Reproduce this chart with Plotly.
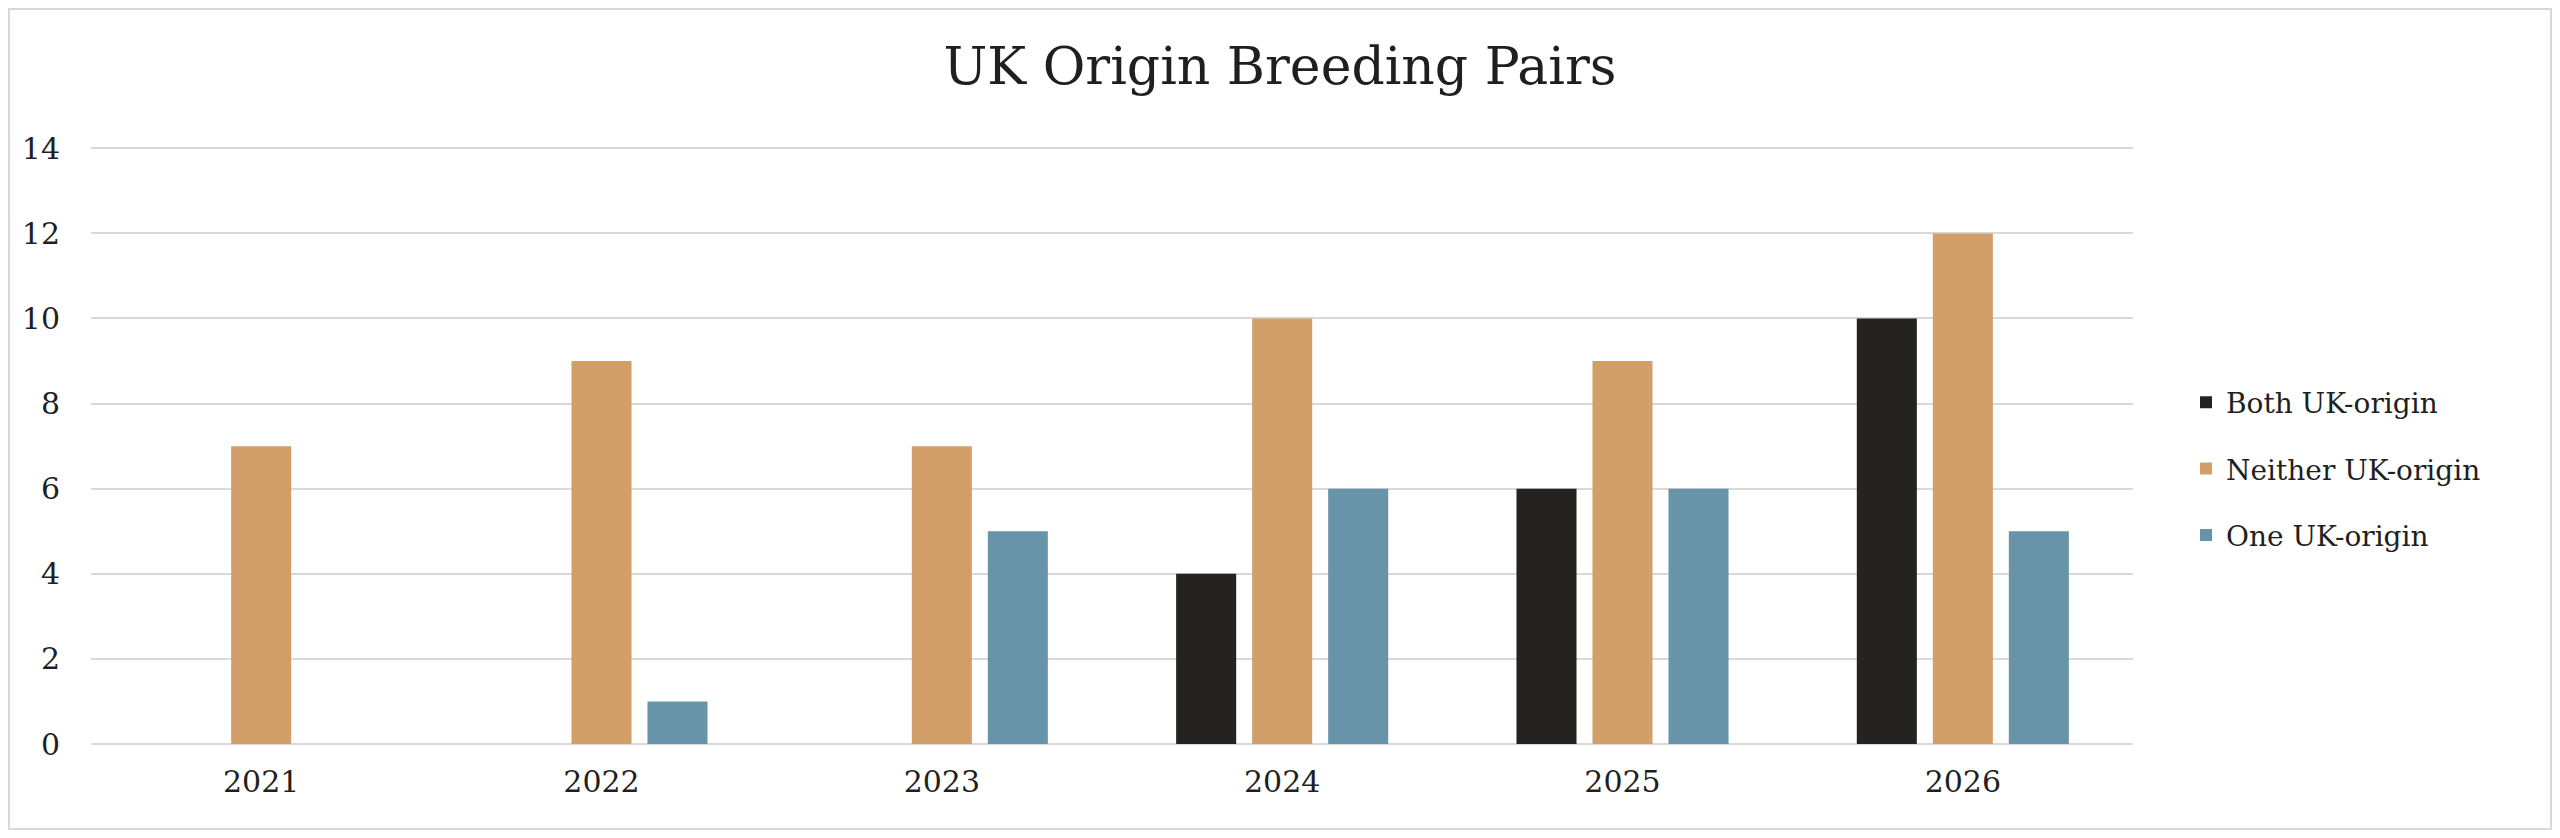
import plotly.graph_objects as go

# chart data
years = ["2021", "2022", "2023", "2024", "2025", "2026"]
both_uk = [None, None, None, 4, 6, 10]
neither_uk = [7, 9, 7, 10, 9, 12]
one_uk = [None, 1, 5, 6, 6, 5]
y_ticks = [0, 2, 4, 6, 8, 10, 12, 14]

series = [
    ("Both UK-origin", both_uk, "#242321"),
    ("Neither UK-origin", neither_uk, "#D39F69"),
    ("One UK-origin", one_uk, "#6894AA"),
]

# page has an 8px body margin, so the figure is a bit smaller than the window
W, H = 2544, 822
ml, mr, mt, mb = 83, 419, 139, 86
pw, ph = W - ml - mr, H - mt - mb
font_name = "DejaVu Serif"
text_col = "#1F1F1F"
grid_col = "#D9D9D9"

fig = go.Figure()
for i, (name, vals, col) in enumerate(series):
    fig.add_trace(go.Bar(x=years, y=vals, name=name, marker=dict(color=col, line=dict(width=0)),
                         legendgroup=f"g{i}"))

fig.update_layout(
    width=W, height=H,
    margin=dict(l=ml, r=mr, t=mt, b=mb),
    paper_bgcolor="white", plot_bgcolor="white",
    barmode="group", bargap=0.33, bargroupgap=0.21,
    title=dict(text="UK Origin Breeding Pairs", x=0.5, xanchor="center",
               y=1 - 58 / H, yanchor="middle",
               font=dict(family=font_name, size=52, color=text_col)),
    legend=dict(x=(2178 - ml) / pw, xanchor="left", y=(H - mb - 461) / ph, yanchor="middle",
                font=dict(family=font_name, size=28, color=text_col),
                tracegroupgap=27, bgcolor="rgba(0,0,0,0)"),
    xaxis=dict(showgrid=False, showline=False, zeroline=False, ticks="",
               tickfont=dict(family=font_name, size=30, color=text_col),
               ticklabelstandoff=17, automargin=False),
    yaxis=dict(range=[0, 14.03], tickvals=y_ticks, showgrid=True, gridcolor=grid_col, gridwidth=2,
               zeroline=True, zerolinecolor=grid_col, zerolinewidth=2, showline=False, ticks="",
               tickfont=dict(family=font_name, size=30, color=text_col),
               ticklabelstandoff=30, automargin=False),
    showlegend=True,
)

# light outer border like the source chart
fig.add_shape(type="rect", xref="paper", yref="paper",
              x0=(-ml + 1) / pw, x1=(W - ml - 1) / pw,
              y0=(-mb + 1) / ph, y1=(H - mb - 1) / ph,
              line=dict(color=grid_col, width=2), fillcolor="rgba(0,0,0,0)", layer="below")

fig.write_html("out.html")
